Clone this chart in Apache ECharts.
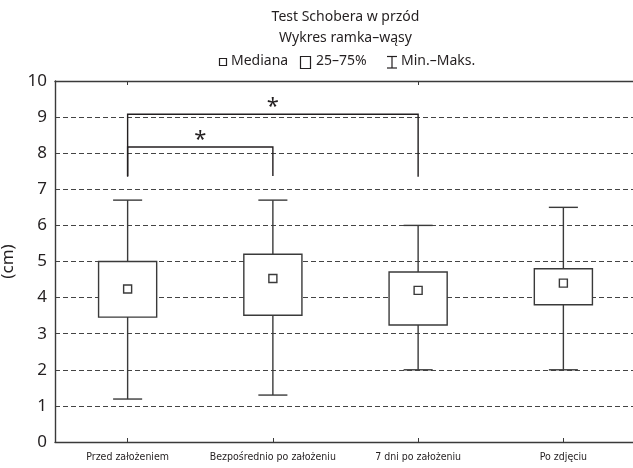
<!DOCTYPE html>
<html>
<head>
<meta charset="utf-8">
<script src="https://cdn.jsdelivr.net/npm/echarts@6/dist/echarts.min.js"></script>
<style>
  html, body { margin: 0; padding: 0; background: #fff; }
  #chart { width: 633px; height: 468px; }
</style>
</head>
<body>
<div id="chart"></div>
<script>
// Forward Schober test, box-and-whisker summary per measurement stage
const categories = ['Przed założeniem', 'Bezpośrednio po założeniu', '7 dni po założeniu', 'Po zdjęciu'];
const minValues    = [1.19, 1.30, 2.00, 2.00];
const q1Values     = [3.46, 3.51, 3.24, 3.80];
const medianValues = [4.24, 4.53, 4.20, 4.40];
const q3Values     = [5.00, 5.20, 4.71, 4.80];
const maxValues    = [6.70, 6.70, 6.00, 6.50];

// Significance brackets: [from category, to category, bar level, leg end]
const bracketFrom  = [0, 0];
const bracketTo    = [1, 2];
const bracketLevel = [8.17, 9.08];
const bracketFoot  = [7.37, 7.35];
const bracketMark  = ['*', '*'];

const yTicks = [0, 10, 1]; // min, max, step

const INK = '#231f20';
const LINE = '#3a3a3a';
const FONT = "'Noto Sans', sans-serif";
const NARROW = "'DejaVu Sans Condensed', Roboto, sans-serif";

const boxData = categories.map((c, i) => [i, minValues[i], q1Values[i], medianValues[i], q3Values[i], maxValues[i]]);
const bracketData = bracketFrom.map((f, i) => [f, bracketTo[i], bracketLevel[i], bracketFoot[i], bracketMark[i]]);

function renderBox(params, api) {
  const cat = api.value(0);
  const band = api.size([1, 0])[0];
  const x = api.coord([cat, 0])[0];
  const y = v => api.coord([cat, v])[1];
  const yMin = y(api.value(1)), yQ1 = y(api.value(2)), yMed = y(api.value(3));
  const yQ3 = y(api.value(4)), yMax = y(api.value(5));
  const boxHalf = band * 0.2;
  const capHalf = band * 0.1;
  const m = 4;
  const stroke = { stroke: LINE, lineWidth: 1.4, fill: null };
  return {
    type: 'group',
    children: [
      { type: 'line', shape: { x1: x, y1: yMax, x2: x, y2: yMin }, style: stroke },
      { type: 'line', shape: { x1: x - capHalf, y1: yMax, x2: x + capHalf, y2: yMax }, style: stroke },
      { type: 'line', shape: { x1: x - capHalf, y1: yMin, x2: x + capHalf, y2: yMin }, style: stroke },
      { type: 'rect', shape: { x: x - boxHalf, y: yQ3, width: boxHalf * 2, height: yQ1 - yQ3 },
        style: { stroke: LINE, lineWidth: 1.4, fill: '#fff' } },
      { type: 'rect', shape: { x: x - m, y: yMed - m, width: m * 2, height: m * 2 },
        style: { stroke: LINE, lineWidth: 1.4, fill: '#fff' } }
    ]
  };
}

function renderBracket(params, api) {
  const a = api.coord([api.value(0), api.value(2)]);
  const b = api.coord([api.value(1), api.value(2)]);
  const footY = api.coord([api.value(0), api.value(3)])[1];
  return {
    type: 'group',
    children: [
      { type: 'polyline',
        shape: { points: [[a[0], footY], [a[0], a[1]], [b[0], b[1]], [b[0], footY]] },
        style: { stroke: INK, lineWidth: 1.4, fill: null } },
      { type: 'text',
        style: { x: (a[0] + b[0]) / 2, y: a[1] + 4, text: bracketMark[params.dataIndex],
                 font: '22px ' + FONT, fill: INK, align: 'center', verticalAlign: 'bottom' } }
    ]
  };
}

const chart = echarts.init(document.getElementById('chart'), null, { renderer: 'canvas' });

const gridLeft = 55, gridTop = 81, gridWidth = 581, gridHeight = 361;
const cx = gridLeft + gridWidth / 2;

chart.setOption({
  animation: false,
  backgroundColor: '#fff',
  grid: { left: gridLeft, top: gridTop, width: gridWidth, height: gridHeight,
          containLabel: false, outerBoundsMode: 'none' },
  xAxis: [
    {
      type: 'category', data: categories, boundaryGap: true,
      axisLine: { show: true, lineStyle: { color: LINE, width: 1.4 } },
      axisTick: { show: true, inside: true, alignWithLabel: true, length: 4, lineStyle: { color: LINE } },
      axisLabel: { color: INK, fontFamily: NARROW, fontSize: 10.5, margin: 10, interval: 0, hideOverlap: false },
      splitLine: { show: false }
    },
    {
      type: 'category', data: categories, position: 'top', boundaryGap: true,
      axisLine: { show: true, lineStyle: { color: LINE, width: 1.4 } },
      axisTick: { show: true, inside: true, alignWithLabel: true, length: 4, lineStyle: { color: LINE } },
      axisLabel: { show: false }
    }
  ],
  yAxis: {
    type: 'value', min: yTicks[0], max: yTicks[1], interval: yTicks[2],
    name: '(cm)', nameLocation: 'middle', nameRotate: 90, nameGap: 36,
    nameTextStyle: { color: INK, fontFamily: FONT, fontSize: 17 },
    axisLine: { show: true, lineStyle: { color: LINE, width: 1.4 } },
    axisTick: { show: false },
    axisLabel: { color: INK, fontFamily: FONT, fontSize: 17, margin: 8 },
    splitLine: { show: true, lineStyle: { color: '#444', type: [5, 3], width: 1 } }
  },
  graphic: [
    { type: 'text', x: cx, y: 17, style: { text: 'Test Schobera w przód', font: '14px ' + FONT, fill: INK, align: 'center', verticalAlign: 'middle' } },
    { type: 'text', x: cx, y: 38, style: { text: 'Wykres ramka–wąsy', font: '14px ' + FONT, fill: INK, align: 'center', verticalAlign: 'middle' } },
    { type: 'rect', shape: { x: 219.5, y: 58.5, width: 7, height: 7 }, style: { stroke: INK, lineWidth: 1.2, fill: '#fff' } },
    { type: 'text', x: 231, y: 61, style: { text: 'Mediana', font: '14px ' + FONT, fill: INK, align: 'left', verticalAlign: 'middle' } },
    { type: 'rect', shape: { x: 300.5, y: 56.5, width: 10, height: 12 }, style: { stroke: INK, lineWidth: 1.2, fill: '#fff' } },
    { type: 'text', x: 316, y: 61, style: { text: '25–75%', font: '14px ' + FONT, fill: INK, align: 'left', verticalAlign: 'middle' } },
    { type: 'polyline', shape: { points: [[387, 56.5], [397, 56.5]] }, style: { stroke: INK, lineWidth: 1.2 } },
    { type: 'polyline', shape: { points: [[392, 56.5], [392, 68]] }, style: { stroke: INK, lineWidth: 1.2 } },
    { type: 'polyline', shape: { points: [[387, 68], [397, 68]] }, style: { stroke: INK, lineWidth: 1.2 } },
    { type: 'text', x: 401, y: 61, style: { text: 'Min.–Maks.', font: '14px ' + FONT, fill: INK, align: 'left', verticalAlign: 'middle' } }
  ],
  series: [
    { type: 'custom', name: 'box', renderItem: renderBox, data: boxData, encode: { x: 0, y: [1, 5] }, z: 3 },
    { type: 'custom', name: 'brackets', renderItem: renderBracket, data: bracketData, encode: { x: [0, 1], y: [2, 3] }, z: 4 }
  ]
});
</script>
</body>
</html>
